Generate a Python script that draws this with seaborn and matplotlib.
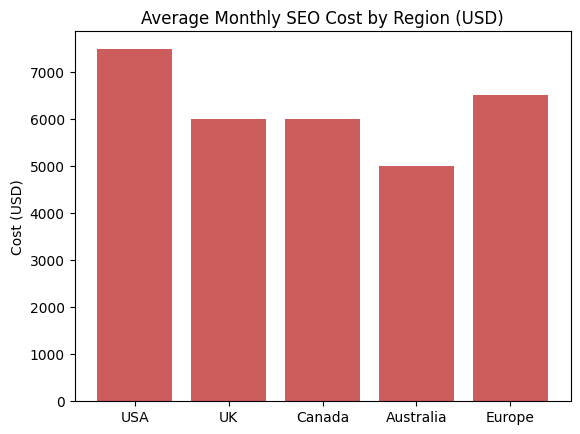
import pandas as pd
import matplotlib
matplotlib.use("Agg")
import matplotlib.pyplot as plt
import seaborn as sns

# Average monthly SEO cost per region
regions = ["USA", "UK", "Canada", "Australia", "Europe"]
costs = [7500, 6000, 6000, 5000, 6500]

df = pd.DataFrame({"Region": regions, "Cost": costs})

W, H = 580, 435
fig = plt.figure(figsize=(W / 100, H / 100), dpi=100)
ax = fig.add_axes([74.5 / W, (H - 401.5) / H, 496 / W, 369.6 / H])

sns.barplot(data=df, x="Region", y="Cost", color="indianred",
            saturation=1, width=0.8, ax=ax)
ax.set_title("Average Monthly SEO Cost by Region (USD)")
ax.set_xlabel("")
ax.set_ylabel("Cost (USD)")
# matplotlib-style 5% margins around the bars
ax.set_xlim(-0.4 - 0.24, len(regions) - 1 + 0.4 + 0.24)
ax.set_ylim(0, max(costs) * 1.05)

fig.savefig("out.png", dpi=100)
